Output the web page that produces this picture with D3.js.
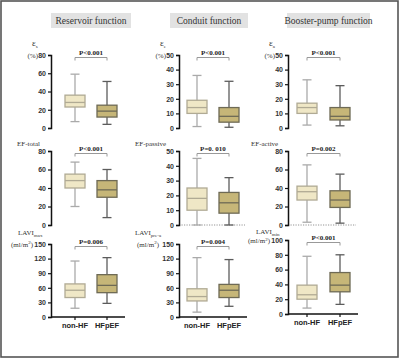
<!DOCTYPE html>
<html>
<head>
<meta charset="utf-8">
<script src="https://cdn.jsdelivr.net/npm/d3@7"></script>
<style>
  html, body { margin: 0; padding: 0; background: #fff; }
  svg { display: block; }
  .tick text { font-family: "Liberation Sans", Arial, sans-serif; font-weight: bold; font-size: 7px; fill: #333; }
</style>
</head>
<body>
<div id="chart"></div>
<script>
const groups = ["non-HF", "HFpEF"];
const functionTitles = ["Reservoir function", "Conduit function", "Booster-pump function"];

// five-number summaries [min, q1, median, q3, max]: non-HF, HFpEF
const strainReservoir = [[7, 23, 28, 36, 59], [4, 12, 18.5, 25, 51]];
const strainConduit = [[1, 10, 14, 19, 36], [0.5, 4, 8, 14, 32]];
const strainBooster = [[2, 10, 14, 17, 33], [1.5, 5.5, 8, 14, 29]];
const efTotal = [[20, 40, 48, 55, 68], [8, 30, 38, 48, 60]];
const efPassive = [[0, 10, 18, 25, 45], [0, 8, 15, 22, 32]];
const efActive = [[3, 27, 36, 42, 65], [2, 19, 27, 37, 55]];
const laviMax = [[18, 40, 55, 68, 115], [28, 50, 65, 87, 122]];
const laviPreA = [[10, 33, 42, 58, 122], [22, 40, 55, 67, 118]];
const laviMin = [[8, 20, 26, 39, 78], [13, 30, 39, 56, 80]];

const pValues = ["P<0.001", "P<0.001", "P<0.001", "P<0.001", "P=0. 010", "P=0.002", "P=0.006", "P=0.004", "P<0.001"];
const yMax = [80, 50, 50, 80, 50, 80, 150, 150, 100];
const yStep = [20, 10, 10, 20, 10, 20, 30, 30, 20];

const series = [strainReservoir, strainConduit, strainBooster, efTotal, efPassive, efActive, laviMax, laviPreA, laviMin];

const width = 400, height = 360;
const svg = d3.select('#chart').append('svg')
  .attr('width', width).attr('height', height);

// outer frame
svg.append('rect')
  .attr('x', 1).attr('y', 1).attr('width', 397).attr('height', 356)
  .attr('fill', 'none').attr('stroke', '#555').attr('stroke-width', 1.6);

// column geometry
const axisX = [51, 179, 288];
const boxX = [[75, 107], [197, 229], [307, 340]];
const axisEnd = [125, 247, 358];
const titleBox = [[51, 131], [170, 248], [287, 370]];
// row geometry: [bottom, top]
const rowY = [[128, 55], [225, 151], [317, 244]];

const fills = ['#efe7c6', '#c6b678'];
const strokes = ['#b0aa94', '#6e6a55'];
const whiskerCol = ['#aaaaaa', '#5c5c5c'];
const serif = '"Liberation Serif", "Times New Roman", serif';

// function title boxes
functionTitles.forEach((t, c) => {
  const [x0, x1] = titleBox[c];
  svg.append('rect')
    .attr('x', x0).attr('y', 13).attr('width', x1 - x0).attr('height', 15)
    .attr('fill', '#e2e2e2');
  svg.append('text')
    .attr('x', (x0 + x1) / 2).attr('y', 23.5)
    .attr('text-anchor', 'middle')
    .style('font-family', serif).style('font-size', '9.5px').style('fill', '#333')
    .text(t);
});

series.forEach((data, i) => {
  const r = Math.floor(i / 3), c = i % 3;
  let [yb, yt] = rowY[r];
  if (i === 8) { yb -= 3; yt -= 4; }

  const y = d3.scaleLinear().domain([0, yMax[i]]).range([yb, yt]);
  const x = d3.scalePoint().domain(groups).range(boxX[c]);
  const g = svg.append('g');

  // x axis
  if (r === 2) {
    const xa = d3.scaleLinear().domain([0, 1]).range([axisX[c], axisEnd[c]]);
    g.append('line')
      .attr('x1', xa(0)).attr('x2', xa(1)).attr('y1', y(0)).attr('y2', y(0))
      .attr('stroke', '#111').attr('stroke-width', 1.3);
    groups.forEach(gr => {
      g.append('line')
        .attr('x1', x(gr)).attr('x2', x(gr)).attr('y1', y(0)).attr('y2', y(0) + 3)
        .attr('stroke', '#111').attr('stroke-width', 1.2);
      g.append('text')
        .attr('x', x(gr)).attr('y', y(0) + 10.5)
        .attr('text-anchor', 'middle')
        .style('font-family', '"Liberation Sans", Arial, sans-serif')
        .style('font-weight', 'bold').style('font-size', '7.5px').style('fill', '#222')
        .text(gr);
    });
  } else if (r === 1 && c > 0) {
    g.append('line')
      .attr('x1', axisX[c]).attr('x2', axisEnd[c] - 2).attr('y1', y(0)).attr('y2', y(0))
      .attr('stroke', '#888').attr('stroke-width', 0.9).attr('stroke-dasharray', '1.2,1.3');
  }

  // y axis
  const ax = g.append('g')
    .attr('transform', `translate(${axisX[c]},0)`)
    .call(d3.axisLeft(y).tickValues(d3.range(0, yMax[i] + 1, yStep[i])).tickSize(3).tickPadding(2));
  ax.select('.domain').attr('stroke', '#111').attr('stroke-width', 1.5);
  ax.selectAll('.tick line').attr('stroke', '#111').attr('stroke-width', 1.2);

  // boxes
  data.forEach((d, k) => {
    const cx = x(groups[k]);
    const [mn, q1, md, q3, mx] = d;
    g.append('line')
      .attr('x1', cx).attr('x2', cx).attr('y1', y(mn)).attr('y2', y(mx))
      .attr('stroke', whiskerCol[k]).attr('stroke-width', 1.3);
    [mn, mx].forEach(v => {
      g.append('line')
        .attr('x1', cx - 4.5).attr('x2', cx + 4.5).attr('y1', y(v)).attr('y2', y(v))
        .attr('stroke', whiskerCol[k]).attr('stroke-width', 1.3);
    });
    g.append('rect')
      .attr('x', cx - 10).attr('width', 20)
      .attr('y', y(q3)).attr('height', y(q1) - y(q3))
      .attr('fill', fills[k]).attr('stroke', strokes[k]).attr('stroke-width', 1.3);
    g.append('line')
      .attr('x1', cx - 10).attr('x2', cx + 10).attr('y1', y(md)).attr('y2', y(md))
      .attr('stroke', strokes[k]).attr('stroke-width', 1.3);
  });

  // p-value bracket
  const by = yt + 2.5;
  g.append('path')
    .attr('d', `M${x(groups[0])},${by + 3}V${by}H${x(groups[1])}V${by + 3}`)
    .attr('fill', 'none').attr('stroke', '#999').attr('stroke-width', 1);
  g.append('text')
    .attr('x', (x(groups[0]) + x(groups[1])) / 2).attr('y', by - 3)
    .attr('text-anchor', 'middle')
    .style('font-family', serif).style('font-weight', 'bold').style('font-size', '7px').style('fill', '#222')
    .text(pValues[i]);
});

// y-axis titles
function label(x, yy, main, sub, anchor, size) {
  const t = svg.append('text').attr('x', x).attr('y', yy)
    .attr('text-anchor', anchor || 'start')
    .style('font-family', serif).style('font-size', (size || 7) + 'px').style('fill', '#333');
  t.append('tspan').text(main);
  if (sub) t.append('tspan').attr('dy', 2).style('font-size', '5px').text(sub);
  return t;
}
// row 1: strain
[['ε', 's'], ['ε', 'e'], ['ε', 'a']].forEach(([m, s], c) => {
  label(axisX[c] - 19, 46, m, s, 'start', 9);
  label(axisX[c] - 13, 57.5, '(%)', null, 'end');
});
// row 2: emptying fractions
label(17, 146, 'EF-total');
label(135, 146, 'EF-passive');
label(251, 146, 'EF-active');
// row 3: volumes
label(18, 235, 'LAVI', 'max');
label(135, 235, 'LAVI', 'pre-a');
label(256, 234, 'LAVI', 'min');
[[axisX[0] - 18, 246.5], [axisX[1] - 20, 246.5], [axisX[2] - 18, 243]].forEach(([xx, yy]) => {
  const t = svg.append('text').attr('x', xx).attr('y', yy).attr('text-anchor', 'end')
    .style('font-family', serif).style('font-size', '7px').style('fill', '#333');
  t.append('tspan').text('(ml/m');
  t.append('tspan').attr('dy', -2.5).style('font-size', '5px').text('2');
  t.append('tspan').attr('dy', 2.5).text(')');
});
</script>
</body>
</html>
